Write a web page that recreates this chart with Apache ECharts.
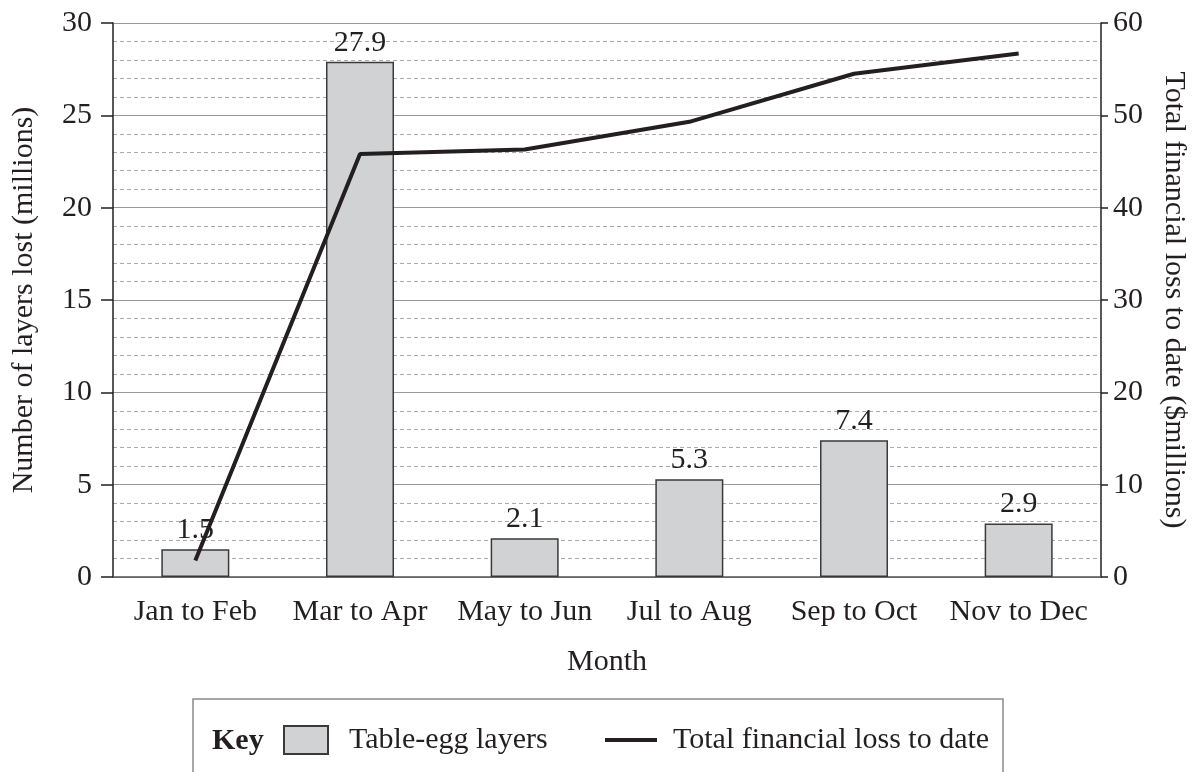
<!DOCTYPE html>
<html>
<head>
<meta charset="utf-8">
<script src="https://cdn.jsdelivr.net/npm/echarts@6/dist/echarts.min.js"></script>
<style>
  html, body { margin: 0; padding: 0; background: #fff; }
  #canvas { width: 1197px; height: 772px; }
</style>
</head>
<body>
<div id="canvas"></div>
<script>
const months = ["Jan to Feb", "Mar to Apr", "May to Jun", "Jul to Aug", "Sep to Oct", "Nov to Dec"];
const layersLost = [1.5, 27.9, 2.1, 5.3, 7.4, 2.9];
const financialLoss = [1.8, 45.8, 46.3, 49.3, 54.5, 56.7];

const font = "Liberation Serif";
const ink = "#231f20";
const fs = 30;

const myChart = window.echarts.init(document.querySelector("#canvas"));
myChart.setOption({
  animation: false,
  textStyle: { fontFamily: font, color: ink },
  grid: { left: 113, right: 96, top: 23, bottom: 195 },
  legend: [
    {
      data: [{ name: "Table-egg layers", icon: "rect" }],
      left: 283, top: 725, padding: 0,
      itemWidth: 44, itemHeight: 28,
      textStyle: { fontFamily: font, fontSize: fs, color: ink, padding: [0, 0, 0, 16] }
    },
    {
      data: [{ name: "Total financial loss to date", icon: "rect" }],
      left: 605, top: 725, padding: 0,
      itemWidth: 52, itemHeight: 4,
      itemStyle: { color: ink, borderWidth: 0 },
      textStyle: { fontFamily: font, fontSize: fs, color: ink, padding: [0, 0, 0, 11] }
    }
  ],
  graphic: [
    {
      type: "rect",
      shape: { x: 193, y: 699, width: 810, height: 90 },
      style: { fill: "none", stroke: "#8a8a8a", lineWidth: 1.5 }
    },
    {
      type: "text",
      x: 212, y: 741,
      style: { text: "Key", font: "bold " + fs + "px " + font, fill: ink, verticalAlign: "middle" }
    }
  ],
  xAxis: {
    type: "category",
    data: months,
    name: "Month",
    nameLocation: "middle",
    nameGap: 70,
    nameTextStyle: { fontSize: fs, color: ink },
    axisLine: { lineStyle: { color: "#555", width: 1.5 } },
    axisTick: { show: false },
    axisLabel: { fontSize: fs, color: ink, margin: 20, interval: 0 }
  },
  yAxis: [
    {
      type: "value",
      min: 0, max: 30, interval: 5,
      name: "Number of layers lost (millions)",
      nameLocation: "middle",
      nameGap: 74,
      nameTextStyle: { fontSize: fs, color: ink },
      axisLine: { show: true, lineStyle: { color: ink, width: 1.5 } },
      axisTick: { show: true, length: 12, lineStyle: { color: ink, width: 1.5 } },
      axisLabel: { fontSize: fs, color: ink, margin: 21 },
      splitLine: { show: true, lineStyle: { color: "#9a9a9a", width: 1.2 } },
      minorTick: { show: false, splitNumber: 5 },
      minorSplitLine: { show: true, lineStyle: { color: "#aaa", type: [4, 3], width: 1 } }
    },
    {
      type: "value",
      min: 0, max: 60, interval: 10,
      position: "right",
      name: "Total financial loss to date ($millions)",
      nameLocation: "middle",
      nameRotate: -90,
      nameGap: 58,
      nameTextStyle: { fontSize: fs, color: ink },
      axisLine: { show: true, lineStyle: { color: ink, width: 1.5 } },
      axisTick: { show: true, length: 7, lineStyle: { color: ink, width: 1.5 } },
      axisLabel: { fontSize: fs, color: ink, margin: 12 },
      splitLine: { show: false }
    }
  ],
  series: [
    {
      name: "Table-egg layers",
      type: "bar",
      data: layersLost,
      barWidth: 68,
      itemStyle: { color: "#d1d2d4", borderColor: "#3a3a3a", borderWidth: 1.5 },
      label: { show: true, position: "top", distance: 4, fontSize: fs, color: ink, fontFamily: font }
    },
    {
      name: "Total financial loss to date",
      type: "line",
      yAxisIndex: 1,
      data: financialLoss,
      symbol: "none",
      lineStyle: { color: ink, width: 4 },
      itemStyle: { color: ink },
      z: 5
    }
  ]
});
</script>
</body>
</html>
